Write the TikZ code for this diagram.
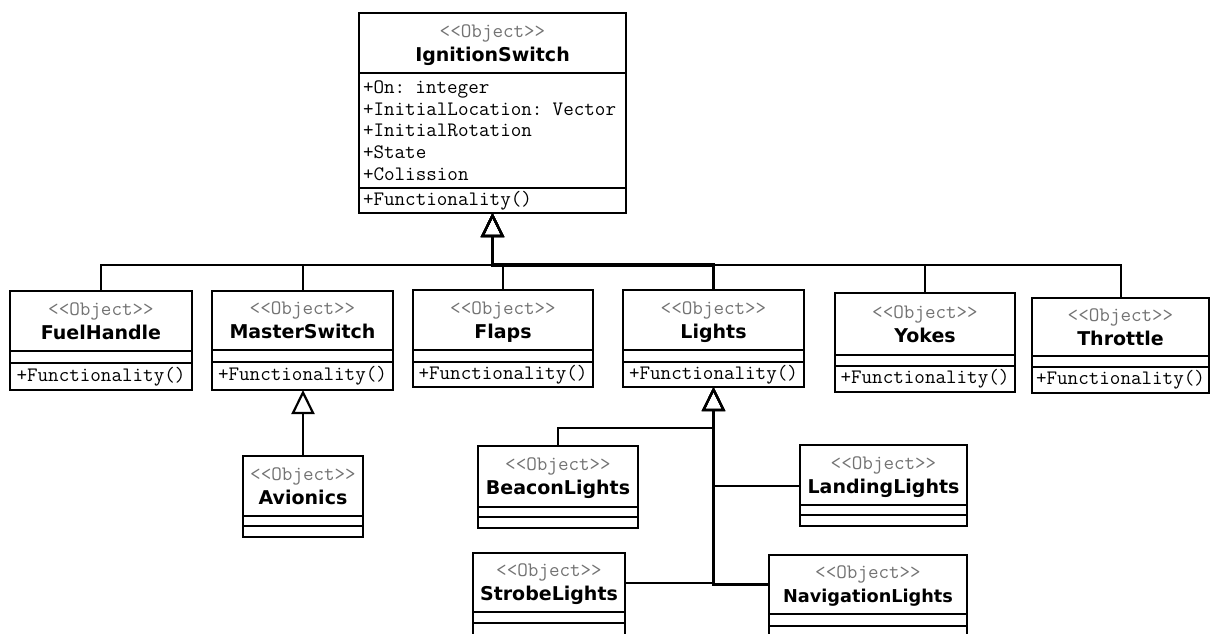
\documentclass[tikz,border=0pt]{standalone}
\usepackage{fontspec}
\setmonofont{Latin Modern Mono}
\newfontfamily\titulofont{DejaVu Sans}
\usetikzlibrary{positioning}
\usetikzlibrary{calc, arrows.meta}

\newcommand{\estereo}{{\ttfamily\mdseries\fontsize{20.5}{24}\selectfont\color{black!55}<\kern0pt<Object>\kern0pt>}}

\begin{document}
\begin{tikzpicture}[x=1pt, y=-1pt,
        caja/.style={draw, line width=2.5pt, outer sep=0pt, inner sep=0pt, fill=white},
        cabecera/.style={caja, align=center, text depth=0pt, font=\titulofont\bfseries\fontsize{19}{24}\selectfont},
        metodos/.style={caja, align=left, font=\ttfamily\fontsize{20.5}{21.75}\selectfont},
        herencia/.style={line width=2pt, -{Triangle[open, length=24pt, width=23pt, line width=2.2pt]}}]
        % Marco de la figura
        \clip (0,0) rectangle (1210,633);
        \fill[white] (0,0) rectangle (1210,633);

        % Clase base IgnitionSwitch
        \node[cabecera, minimum width=267pt, minimum height=60pt] (ign) at (492.5,43) {\estereo\\IgnitionSwitch};
        \node[metodos, text width=259pt, inner xsep=4pt, minimum height=115pt, below=0pt of ign] (ignAtr) {+On: integer\\+InitialLocation: Vector\\+InitialRotation\\+State\\+Colission};
        \node[metodos, text width=259pt, inner xsep=4pt, minimum height=25pt, below=0pt of ignAtr] (ignOps) {+Functionality()};

        % Clases hijas (primera fila)
        \node[cabecera, minimum width=182pt, minimum height=60pt] (fuel) at (101,321) {\estereo\\FuelHandle};
        \node[caja, minimum width=182pt, minimum height=12pt, below=0pt of fuel] (fuelAtr) {};
        \node[metodos, minimum width=182pt, minimum height=27pt, below=0pt of fuelAtr] (fuelOps) {+Functionality()};

        \node[cabecera, minimum width=181pt, minimum height=59pt] (master) at (302.5,320.5) {\estereo\\MasterSwitch};
        \node[caja, minimum width=181pt, minimum height=12pt, below=0pt of master] (masterAtr) {};
        \node[metodos, minimum width=181pt, minimum height=28pt, below=0pt of masterAtr] (masterOps) {+Functionality()};

        \node[cabecera, minimum width=180pt, minimum height=60pt] (flaps) at (503,320) {\estereo\\Flaps};
        \node[caja, minimum width=180pt, minimum height=12pt, below=0pt of flaps] (flapsAtr) {};
        \node[metodos, minimum width=180pt, minimum height=25pt, below=0pt of flapsAtr] (flapsOps) {+Functionality()};

        \node[cabecera, minimum width=181pt, minimum height=60pt] (lights) at (713.5,320) {\estereo\\Lights};
        \node[caja, minimum width=181pt, minimum height=12pt, below=0pt of lights] (lightsAtr) {};
        \node[metodos, minimum width=181pt, minimum height=25pt, below=0pt of lightsAtr] (lightsOps) {+Functionality()};

        \node[cabecera, minimum width=180pt, minimum height=62pt] (yokes) at (925,324) {\estereo\\Yokes};
        \node[caja, minimum width=180pt, minimum height=11pt, below=0pt of yokes] (yokesAtr) {};
        \node[metodos, minimum width=180pt, minimum height=26pt, below=0pt of yokesAtr] (yokesOps) {+Functionality()};

        \node[cabecera, minimum width=177pt, minimum height=58pt] (throttle) at (1120.5,327) {\estereo\\Throttle};
        \node[caja, minimum width=177pt, minimum height=11pt, below=0pt of throttle] (throttleAtr) {};
        \node[metodos, minimum width=177pt, minimum height=26pt, below=0pt of throttleAtr] (throttleOps) {+Functionality()};

        % Hija de MasterSwitch
        \node[cabecera, minimum width=120pt, minimum height=60pt] (avio) at (303,486) {\estereo\\Avionics};
        \node[caja, minimum width=120pt, minimum height=10pt, below=0pt of avio] (avioAtr) {};
        \node[caja, minimum width=120pt, minimum height=11pt, below=0pt of avioAtr] (avioOps) {};

        % Hijas de Lights
        \node[cabecera, minimum width=160pt, minimum height=61pt] (beacon) at (558,476.5) {\estereo\\BeaconLights};
        \node[caja, minimum width=160pt, minimum height=10pt, below=0pt of beacon] (beaconAtr) {};
        \node[caja, minimum width=160pt, minimum height=11pt, below=0pt of beaconAtr] (beaconOps) {};

        \node[cabecera, minimum width=167pt, minimum height=60pt] (landing) at (883.5,475) {\estereo\\LandingLights};
        \node[caja, minimum width=167pt, minimum height=10pt, below=0pt of landing] (landingAtr) {};
        \node[caja, minimum width=167pt, minimum height=11pt, below=0pt of landingAtr] (landingOps) {};

        \node[cabecera, minimum width=152pt, minimum height=59pt] (strobe) at (549,582.5) {\estereo\\StrobeLights};
        \node[caja, minimum width=152pt, minimum height=11pt, below=0pt of strobe] (strobeAtr) {};
        \node[caja, minimum width=152pt, minimum height=30pt, below=0pt of strobeAtr] (strobeOps) {};

        \node[cabecera, minimum width=198pt, minimum height=59pt, font=\titulofont\bfseries\fontsize{17.7}{24}\selectfont] (nav) at (868,584.5) {\estereo\\NavigationLights};
        \node[caja, minimum width=198pt, minimum height=12pt, below=0pt of nav] (navAtr) {};
        \node[caja, minimum width=198pt, minimum height=30pt, below=0pt of navAtr] (navOps) {};

        % Herencia hacia IgnitionSwitch
        \coordinate (tronco) at ($(ignOps.south)+(0,52)$);
        \draw[herencia] (fuel.north) |- (tronco) -- (ignOps.south);
        \draw[herencia] (master.north) |- (tronco) -- (ignOps.south);
        \draw[herencia] (flaps.north) |- (tronco) -- (ignOps.south);
        \draw[herencia] (yokes.north) |- (tronco) -- (ignOps.south);
        \draw[herencia] (throttle.north) |- (tronco) -- (ignOps.south);
        \draw[herencia, line width=3.2pt] (lights.north) |- (tronco) -- (ignOps.south);

        % Herencia hacia MasterSwitch
        \draw[herencia] (avio.north) -- (avio.north |- masterOps.south);

        % Herencia hacia Lights
        \draw[herencia] (beacon.north) |- ($(lightsOps.south)+(0,41)$) -- (lightsOps.south);
        \draw[herencia] ($(landing.west)+(0,11)$) -| (lightsOps.south);
        \draw[herencia] (strobe.east) -| (lightsOps.south);
        \draw[herencia, line width=3pt] (nav.west) -| (lightsOps.south);
    \end{tikzpicture}
\end{document}
